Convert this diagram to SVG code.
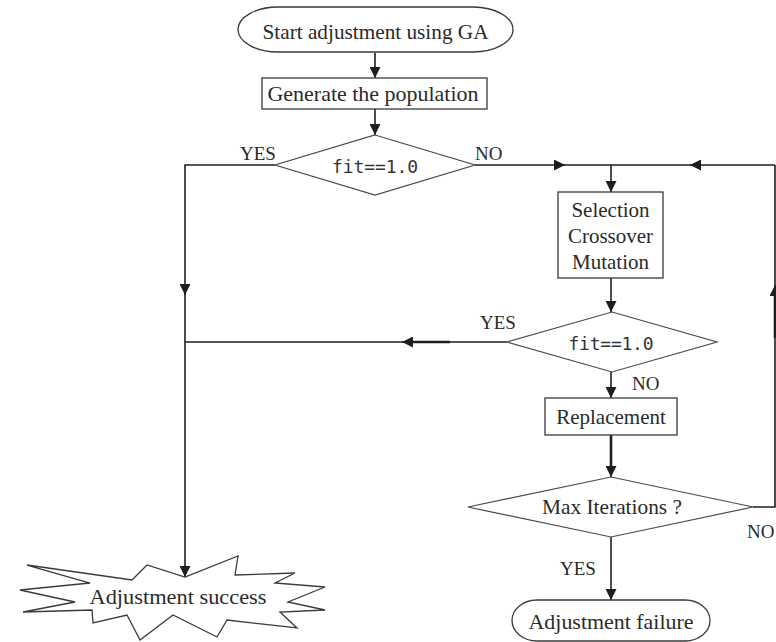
<svg xmlns="http://www.w3.org/2000/svg" width="776" height="642" viewBox="0 0 776 642">
  <style>
    .bg { fill: #ffffff; }
    .shape { fill: #ffffff; stroke: #3a3a3a; stroke-width: 1.3; }
    .dia { fill: #ffffff; stroke: #4a4a4a; stroke-width: 1.2; }
    .lbl { font-family: "Liberation Serif", "Times New Roman", serif; font-size: 21px; fill: #2a2a2a; text-anchor: middle; }
    .cond { font-family: "DejaVu Sans Mono", monospace; font-size: 18px; fill: #333333; text-anchor: middle; }
    .yn { font-family: "Liberation Serif", "Times New Roman", serif; font-size: 19px; fill: #2a2a2a; }
    .wire { fill: none; stroke: #1e1e1e; stroke-width: 1.6; }
    .thick { fill: none; stroke: #1e1e1e; stroke-width: 2.6; }
    .arr { fill: none; stroke: #1e1e1e; stroke-width: 1.6; marker-end: url(#head); }
  </style>
  <defs>
    <marker id="head" markerUnits="userSpaceOnUse" viewBox="0 0 10 10" refX="10" refY="5" markerWidth="11" markerHeight="11" orient="auto">
      <path d="M0,0 L10,5 L0,10 z" fill="#1e1e1e"/>
    </marker>
  </defs>

  <rect class="bg" x="0" y="0" width="776" height="642"/>

  <!-- connectors -->
  <g id="connectors">
    <path class="arr" d="M375,53 V78"/>
    <path class="arr" d="M375,109 V135"/>
    <!-- first test: YES branch down to success -->
    <path class="wire" d="M275,165 H185 V577"/>
    <path class="arr" d="M185,284 V295"/>
    <path class="arr" d="M185,566 V577"/>
    <!-- first test: NO branch into the GA loop -->
    <path class="wire" d="M475,165 H775"/>
    <path class="arr" d="M554,165 H565"/>
    <path class="arr" d="M611,165 V192"/>
    <!-- loop back from the iteration check -->
    <path class="wire" d="M753,507 H775 V165"/>
    <path class="arr" d="M701,165 H690"/>
    <path class="thick" d="M775,338 V292"/>
    <path class="arr" d="M775,296 V285"/>
    <!-- second test: YES branch -->
    <path class="wire" d="M507,342 H185"/>
    <path class="thick" d="M450,342 H408"/>
    <path class="arr" d="M413,342 H402"/>
    <!-- main column -->
    <path class="arr" d="M611,278 V312"/>
    <path class="arr" d="M611,372 V398"/>
    <path class="thick" d="M611,435 V468"/>
    <path class="arr" d="M611,466 V477"/>
    <path class="arr" d="M611,537 V600"/>
  </g>

  <g id="start">
    <rect class="shape" x="238" y="7" width="275" height="45" rx="40" ry="22.5"/>
    <text class="lbl" x="375.5" y="39" textLength="226" lengthAdjust="spacingAndGlyphs">Start adjustment using GA</text>
  </g>

  <g id="generate">
    <rect class="shape" x="262" y="78" width="225" height="31"/>
    <text class="lbl" x="373" y="101" textLength="211" lengthAdjust="spacingAndGlyphs">Generate the population</text>
  </g>

  <g id="test1">
    <polygon class="dia" points="375,135 475,165 375,195 275,165"/>
    <text class="cond" x="375" y="173" textLength="86" lengthAdjust="spacing">fit==1.0</text>
    <text class="yn" x="240" y="160">YES</text>
    <text class="yn" x="475" y="160">NO</text>
  </g>

  <g id="operators">
    <rect class="shape" x="558" y="192" width="105" height="86"/>
    <text class="lbl" x="610.5" y="217">Selection</text>
    <text class="lbl" x="610.5" y="243">Crossover</text>
    <text class="lbl" x="610.5" y="269">Mutation</text>
  </g>

  <g id="test2">
    <polygon class="dia" points="612,312 717,342 612,372 507,342"/>
    <text class="cond" x="611" y="350" textLength="85" lengthAdjust="spacing">fit==1.0</text>
    <text class="yn" x="480" y="329">YES</text>
    <text class="yn" x="632" y="390">NO</text>
  </g>

  <g id="replacement">
    <rect class="shape" x="545" y="398" width="132" height="37"/>
    <text class="lbl" x="611" y="424">Replacement</text>
  </g>

  <g id="test3">
    <polygon class="dia" points="611,477 753,507 611,537 468,507"/>
    <text class="lbl" x="612" y="514" textLength="140" lengthAdjust="spacingAndGlyphs">Max Iterations ?</text>
    <text class="yn" x="747" y="538">NO</text>
    <text class="yn" x="560" y="575">YES</text>
  </g>

  <g id="success">
    <polygon class="shape" points="27,565 132,580 147,565 185,577 238,556 235,575 295,573 275,583 325,587 288,602 325,610 280,612 297,628 227,620 217,637 173,615 140,640 127,615 93,623 92,610 23,612 75,602 20,590 90,583"/>
    <text class="lbl" x="178" y="604" textLength="177" lengthAdjust="spacingAndGlyphs">Adjustment success</text>
  </g>

  <g id="failure">
    <rect class="shape" x="512" y="600" width="198" height="41" rx="25" ry="20.5"/>
    <text class="lbl" x="611" y="629" textLength="165" lengthAdjust="spacingAndGlyphs">Adjustment failure</text>
  </g>
</svg>
